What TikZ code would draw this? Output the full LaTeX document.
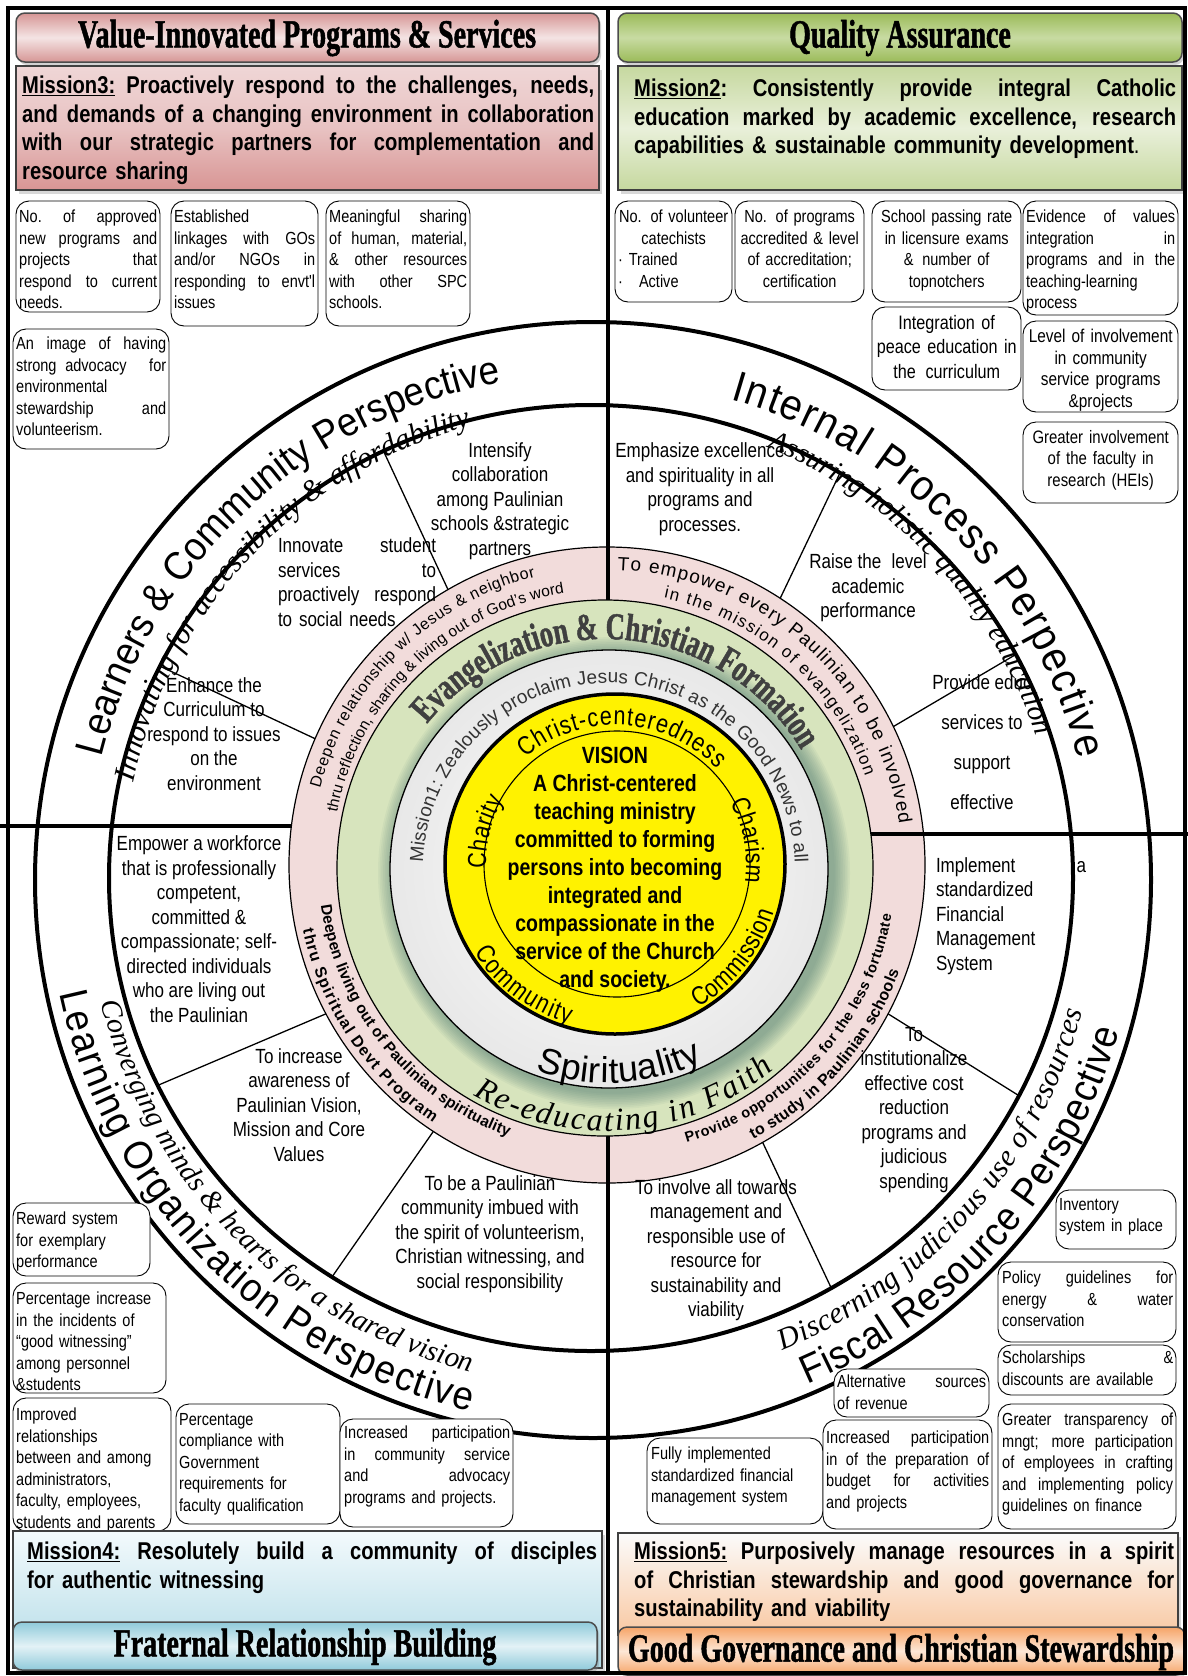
\documentclass[tikz,border=0pt]{standalone}
\usepackage{fontspec}
\setmainfont{Liberation Sans}
\newfontfamily\nar[FakeStretch=0.83]{Liberation Sans}
\newfontfamily\pers[FakeStretch=0.92]{Liberation Sans}
\newfontfamily\hdf[FakeStretch=0.7,FakeBold=1.2]{Liberation Serif}
\newfontfamily\sit{Liberation Serif}
\usetikzlibrary{calc,decorations.text,shadows}
\newcommand\fs[2]{\fontsize{#1}{#2}\selectfont}
\newcommand\jl[1]{\makebox[\linewidth][s]{\spaceskip=0.25em plus 4em minus 0.04em\xspaceskip=\spaceskip\relax #1}}
\definecolor{ringpink}{HTML}{F2DCDB}
\definecolor{ringgreen}{HTML}{D7E4BD}
\definecolor{pkdark}{HTML}{D69695}
\definecolor{pklight}{HTML}{F4E4E4}
\definecolor{pkmis}{HTML}{D89594}
\definecolor{pkmisl}{HTML}{EFD6D6}
\definecolor{grdark}{HTML}{9BBB59}
\definecolor{grlight}{HTML}{C8DBA2}
\definecolor{grmis}{HTML}{C6D89F}
\definecolor{grmisl}{HTML}{E9F0DA}
\definecolor{bldark}{HTML}{8FCADA}
\definecolor{bllight}{HTML}{E3F2F6}
\definecolor{blmis}{HTML}{B0DAE6}
\definecolor{blmisl}{HTML}{F3FAFC}
\definecolor{ordark}{HTML}{F6A467}
\definecolor{orlight}{HTML}{FDE7D6}
\definecolor{ormis}{HTML}{F9C8A2}
\definecolor{ormisl}{HTML}{FBFBFB}
\definecolor{glow}{HTML}{3F6F6A}
\tikzset{
  heavy/.style={line width=4pt},
  radial/.style={line width=1.3pt},
  kpi/.style={draw=black, line width=0.9pt, rounded corners=13pt, fill=white},
  kt/.style={anchor=north west, inner sep=0pt, align=left, font=\nar\fs{17.5}{21.5}},
  obj/.style={inner sep=0pt, align=center, font=\nar\fs{20.5}{24.5}},
  hdr/.style={draw=black!70, line width=1.5pt, rounded corners=9pt, drop shadow={shadow xshift=2pt, shadow yshift=-3pt, opacity=0.35}},
  msn/.style={draw=black!75, line width=2pt, drop shadow={shadow xshift=3pt, shadow yshift=-4pt, opacity=0.3}},
  mtext/.style={anchor=north west, inner sep=0pt, align=left, font=\nar\bfseries\fs{24.3}{28.5}},
  htext/.style={inner sep=0pt, font=\hdf\bfseries\fs{40}{44}},
  arctext/.style={decorate, decoration={text along path, text align={fit to path}, text={#1}}},
}
\begin{document}
\begin{tikzpicture}[x=1pt,y=1pt]
\useasboundingbox (0,0) rectangle (1188,-1676);
\fill[white] (0,0) rectangle (1188,-1676);
\coordinate (O) at (593,-880);
\coordinate (Q) at (591,-878);
\coordinate (P) at (607,-865);
\coordinate (G) at (605,-868);
\coordinate (W) at (609,-869);
\coordinate (Y) at (615,-864);
\coordinate (T) at (617,-864);
% perspective circles
\draw[heavy] (O) circle (558);
\draw[heavy] (Q) ellipse [x radius=482, y radius=473];
% radial sector lines
\draw[radial] ($(P)+(120:318)$) -- ($(Q)+({482*cos(115.5)},{473*sin(115.5)})$);
\draw[radial] ($(P)+(156.6:318)$) -- ($(Q)+({482*cos(153.4)},{473*sin(153.4)})$);
\draw[radial] ($(P)+(57:318)$) -- ($(Q)+({482*cos(58.9)},{473*sin(58.9)})$);
\draw[radial] ($(P)+(25.8:318)$) -- ($(Q)+({482*cos(28.2)},{473*sin(28.2)})$);
\draw[radial] ($(P)+(207.9:318)$) -- ($(Q)+({482*cos(206)},{473*sin(206)})$);
\draw[radial] ($(P)+(236.9:318)$) -- ($(Q)+({482*cos(237.5)},{473*sin(237.5)})$);
\draw[radial] ($(P)+(332.1:318)$) -- ($(Q)+({482*cos(332.6)},{473*sin(332.6)})$);
\draw[radial] ($(P)+(299.3:318)$) -- ($(Q)+({482*cos(299.9)},{473*sin(299.9)})$);
% pink ring
\draw[fill=ringpink, line width=1.2pt] (P) circle (318);
% dividers
\coordinate (vt1) at (608,-8);   \coordinate (vt2) at (608,-620);
\coordinate (vb1) at (608,-1110); \coordinate (vb2) at (608,-1672);
\coordinate (hl1) at (0,-826);   \coordinate (hl2) at (292,-826);
\coordinate (hr1) at (860,-834); \coordinate (hr2) at (1188,-834);
\draw[heavy] (vt1) -- (vt2);
\draw[heavy] (vb1) -- (vb2);
\draw[heavy] (hl1) -- (hl2);
\draw[heavy] (hr1) -- (hr2);
% green ring
\draw[fill=ringgreen, line width=1.2pt] (G) circle (268);
\begin{scope}
\clip (G) circle (268);
\foreach \k in {0,...,9} \fill[glow, opacity=0.06] ($(W)+(5,-4)$) circle ({236-1.7*\k});
\end{scope}
% white ring
\fill[inner color=white, outer color=black!9] (W) circle (219);
\draw[line width=1.3pt] (W) circle (219);
% yellow
\draw[fill=yellow, line width=3.5pt] (Y) circle (170);
\draw[line width=1.1pt] (T) circle (133);

% ---- curved texts: perspectives
\path[arctext={|\pers\fs{40}{48}|Learners {\&} Community Perspective}] ($(O)+(166:506)$) arc[start angle=166,end angle=101,radius=506];
\path[arctext={|\sit\itshape\fs{30}{36}|Innovating for accessibility {\&} affordability}] ($(O)+(168:470)$) arc[start angle=168,end angle=105,radius=470];
\path[arctext={|\pers\fs{43}{52}|Internal Process Perpective}] ($(O)+(74:500)$) arc[start angle=74,end angle=14,radius=500];
\path[arctext={|\sit\itshape\fs{29}{35}|Assuring holistic quality education}] ($(O)+(68:466)$) arc[start angle=68,end angle=18,radius=466];
\path[arctext={|\pers\fs{40}{48}|Learning Organization Perspective}] ($(O)+(192:545)$) arc[start angle=192,end angle=257,radius=545];
\path[arctext={|\sit\itshape\fs{29}{35}|Converging minds {\&} hearts for a shared vision}] ($(O)+(194:507)$) arc[start angle=194,end angle=256,radius=507];
\path[arctext={|\pers\fs{40}{46}|Fiscal Resource Perspective}] ($(O)+(293:548)$) arc[start angle=293,end angle=344,radius=548];
\path[arctext={|\sit\itshape\fs{30}{36}|Discerning judicious use of resources}] ($(O)+(292:507)$) arc[start angle=292,end angle=345,radius=507];
% pink ring texts
\path[arctext={|\fs{16}{19}|Deepen relationship w/ Jesus {\&} neighbor}] ($(P)+(165:297)$) arc[start angle=165,end angle=104,radius=297];
\path[arctext={|\fs{15.5}{18}|thru reflection, sharing {\&} living out of God's word}] ($(P)+(169:275)$) arc[start angle=169,end angle=99,radius=275];
\path[arctext={|\fs{19}{22}|To empower every Paulinian to be involved}] ($(P)+(88:295)$) arc[start angle=88,end angle=8,radius=295];
\path[arctext={|\fs{17}{20}|in the mission of evangelization}] ($(P)+(78:273)$) arc[start angle=78,end angle=19,radius=273];
\path[arctext={|\bfseries\fs{15.5}{18}|Deepen living out of Paulinian spirituality}] ($(P)+(188:289)$) arc[start angle=188,end angle=250,radius=289];
\path[arctext={|\bfseries\fs{16}{19}|thru Spiritual Devt Program}] ($(P)+(192:311)$) arc[start angle=192,end angle=236,radius=311];
\path[arctext={|\bfseries\fs{14.5}{17}|Provide opportunities for the less fortunate}] ($(P)+(286:289)$) arc[start angle=286,end angle=350,radius=289];
\path[arctext={|\bfseries\fs{16}{19}|to study in Paulinian schools}] ($(P)+(298:311)$) arc[start angle=298,end angle=340,radius=311];
% green ring texts
\path[arctext={|\hdf\bfseries\fs{38}{44}|Evangelization {\&} Christian Formation}, decoration={text color=black!75}] ($(G)+(141:229)$) arc[start angle=141,end angle=32,radius=229];
\path[arctext={|\sit\itshape\fs{32}{38}|Re-educating in Faith}] ($(G)+(240:263)$) arc[start angle=240,end angle=310,radius=263];
% white ring texts
\path[arctext={|\fs{19}{22}|Mission1: Zealously proclaim Jesus Christ as the Good News to all}, decoration={text color=black!80}] ($(W)+(178:186)$) arc[start angle=178,end angle=2,radius=186];
\path[arctext={|\fs{36}{42}|Spirituality}] ($(W)+(250:214)$) arc[start angle=250,end angle=296,radius=214];
% yellow texts
\path[arctext={|\nar\fs{26}{30}|Christ-centeredness}] ($(Y)+(130:139)$) arc[start angle=130,end angle=43,radius=139];
\path[arctext={|\nar\fs{26}{30}|Charity}] ($(Y)+(182:129)$) arc[start angle=182,end angle=150,radius=129];
\path[arctext={|\nar\fs{26}{30}|Charism}] ($(Y)+(28:131)$) arc[start angle=28,end angle=-8,radius=131];
\path[arctext={|\nar\fs{26}{30}|Community}] ($(Y)+(212:166)$) arc[start angle=212,end angle=254,radius=166];
\path[arctext={|\nar\fs{26}{30}|Commission}] ($(Y)+(300:166)$) arc[start angle=300,end angle=343,radius=166];

\node[font=\nar\bfseries\fs{23.5}{28}, align=center, inner sep=0pt] (vis) at (615,-870) {VISION\\A Christ-centered\\teaching ministry\\committed to forming\\persons into becoming\\integrated and\\compassionate in the\\service of the Church\\and society.};

% ---- objectives
\node[obj] (o1) at (500,-501) {Intensify\\collaboration\\among Paulinian\\schools \&strategic\\partners};
\node[obj, text width=158pt, align=left] (o2) at (357,-582) {\jl{Innovate student}\\\jl{services to}\\\jl{proactively respond}\\to social needs};
\node[obj] (o3) at (214,-734) {Enhance the\\Curriculum to\\respond to issues\\on the\\environment};
\node[obj] (o4) at (700,-489) {Emphasize excellence\\and spirituality in all\\programs and\\processes.};
\node[obj] (o5) at (868,-588) {Raise the\enspace level\\academic\\performance};
\node[obj, font=\nar\fs{20.5}{40}] (o6) at (982,-742) {Provide educ\\services to\\support\\effective};
\node[obj] (o7) at (199,-929) {Empower a workforce\\that is professionally\\competent,\\committed \&\\compassionate; self-\\directed individuals\\who are living out\\the Paulinian};
\node[obj] (o8) at (299,-1105) {To increase\\awareness of\\Paulinian Vision,\\Mission and Core\\Values};
\node[obj] (o9) at (490,-1234) {To be a Paulinian\\community imbued with\\the spirit of volunteerism,\\Christian witnessing, and\\social responsibility};
\node[obj, text width=150pt, align=left] (o10) at (1011,-916) {\jl{Implement a}\\standardized\\Financial\\Management\\System};
\node[obj] (o11) at (914,-1110) {To\\institutionalize\\effective cost\\reduction\\programs and\\judicious\\spending};
\node[obj] (o12) at (716,-1250) {To involve all towards\\management and\\responsible use of\\resource for\\sustainability and\\viability};

% ---- KPI boxes top-left
\draw[kpi] (16,-201) rectangle (160,-312);
\node[kt, text width=138pt] (k1) at (19,-210) {\jl{No. of approved}\\\jl{new programs and}\\\jl{projects that}\\\jl{respond to current}\\needs.};
\draw[kpi] (171,-201) rectangle (318,-326);
\node[kt, text width=141pt] (k2) at (174,-210) {Established\\\jl{linkages with GOs}\\\jl{and/or NGOs in}\\\jl{responding to envt'l}\\issues};
\draw[kpi] (326,-201) rectangle (470,-326);
\node[kt, text width=138pt] (k3) at (329,-210) {\jl{Meaningful sharing}\\\jl{of human, material,}\\\jl{\& other resources}\\\jl{with other SPC}\\schools.};
\draw[kpi] (13,-329) rectangle (169,-449);
\node[kt, text width=150pt] (k4) at (16,-337) {\jl{An image of having}\\\jl{strong\enspace advocacy for}\\environmental\\\jl{stewardship and}\\volunteerism.};
% top-right
\draw[kpi] (615,-201) rectangle (732,-302);
\node[kt, text width=111pt, align=center] (k5) at (618,-210) {No. of volunteer\\catechists\\\makebox[\linewidth][l]{·\ Trained}\\\makebox[\linewidth][l]{·\hspace{16pt}Active}};
\draw[kpi] (735,-201) rectangle (864,-302);
\node[kt, text width=125pt, align=center] (k6) at (737,-210) {No. of programs\\accredited \& level\\of accreditation;\\certification};
\draw[kpi] (872,-201) rectangle (1021,-302);
\node[kt, text width=143pt, align=center] (k7) at (875,-210) {School passing rate\\in licensure exams\\\&\enspace number of\\topnotchers};
\draw[kpi] (1023,-201) rectangle (1178,-315);
\node[kt, text width=149pt] (k8) at (1026,-210) {\jl{Evidence of values}\\\jl{integration in}\\\jl{programs and in the}\\teaching-learning\\process};
\draw[kpi] (872,-307) rectangle (1021,-390);
\node[kt, text width=145pt, align=center, font=\nar\fs{19.5}{24.5}] (k9) at (874,-315) {Integration of\\peace education in\\the\enspace curriculum};
\draw[kpi] (1023,-321) rectangle (1178,-412);
\node[kt, text width=151pt, align=center, font=\nar\fs{18.5}{21.5}] (k10) at (1025,-329) {Level of involvement\\in community\\service programs\\\&projects};
\draw[kpi] (1023,-422) rectangle (1178,-503);
\node[kt, text width=151pt, align=center, font=\nar\fs{18}{21.5}] (k11) at (1025,-430) {Greater involvement\\of the faculty in\\research (HEIs)};
% bottom-left
\draw[kpi] (13,-1203) rectangle (150,-1276);
\node[kt, text width=131pt] (k12) at (16,-1212) {Reward system\\for exemplary\\performance};
\fill[white, rounded corners=13pt] (13,-1283) rectangle (166,-1393);
\begin{scope}
\clip[rounded corners=13pt] (13,-1283) rectangle (166,-1393);
\node[kt, text width=147pt] (k13) at (16,-1292) {Percentage increase\\in the incidents of\\“good witnessing”\\among personnel\\\&students};
\end{scope}
\draw[line width=0.9pt, rounded corners=13pt] (13,-1283) rectangle (166,-1393);
\draw[kpi] (13,-1398) rectangle (171,-1531);
\node[kt, text width=152pt] (k14) at (16,-1408) {Improved\\relationships\\between and among\\administrators,\\faculty, employees,\\students and parents};
\draw[kpi] (176,-1404) rectangle (340,-1524);
\node[kt, text width=158pt] (k15) at (179,-1413) {Percentage\\compliance with\\Government\\requirements for\\faculty qualification};
\draw[kpi] (340,-1419) rectangle (513,-1527);
\node[kt, text width=166pt] (k16) at (344,-1426) {\jl{Increased participation}\\\jl{in community service}\\\jl{and advocacy}\\programs and projects.};
% bottom-right
\draw[kpi] (1056,-1190) rectangle (1176,-1249);
\node[kt, text width=114pt] (k17) at (1059,-1198) {Inventory\\system in place};
\draw[kpi] (998,-1262) rectangle (1176,-1342);
\node[kt, text width=171pt] (k18) at (1002,-1271) {\jl{Policy guidelines for}\\\jl{energy \& water}\\conservation};
\draw[kpi] (998,-1345) rectangle (1176,-1395);
\node[kt, text width=171pt] (k19) at (1002,-1351) {\jl{Scholarships \&}\\discounts are available};
\draw[kpi] (998,-1404) rectangle (1176,-1529);
\node[kt, text width=171pt] (k20) at (1002,-1413) {\jl{Greater transparency of}\\\jl{mngt; more participation}\\\jl{of employees in crafting}\\\jl{and implementing policy}\\guidelines on finance};
\draw[kpi] (834,-1369) rectangle (989,-1417);
\node[kt, text width=149pt] (k21) at (837,-1375) {\jl{Alternative sources}\\of revenue};
\draw[kpi] (647,-1438) rectangle (823,-1524);
\node[kt, text width=170pt] (k23) at (651,-1447) {Fully implemented\\standardized financial\\management system};
\draw[kpi] (823,-1420) rectangle (992,-1529);
\node[kt, text width=163pt] (k22) at (826,-1431) {\jl{Increased participation}\\\jl{in of the preparation of}\\\jl{budget for activities}\\and projects};

% ---- mission and header boxes
\path[msn, top color=pkmisl, bottom color=pkmis, middle color=pkmisl!70!pkmis] (16,-66) rectangle (599,-190);
\node[mtext, text width=572pt] (m3) at (22,-76) {\jl{\underline{Mission3:} Proactively respond to the challenges, needs,}\\\jl{and demands of a changing environment in collaboration}\\\jl{with our strategic partners for complementation and}\\resource sharing};
\path[hdr, top color=pkdark, bottom color=pkdark, middle color=pklight] (16,-13) rectangle (599,-62);
\node[htext] (h1) at (307,-38) {Value-Innovated Programs \& Services};

\path[msn, top color=grmis, bottom color=grmis, middle color=grmisl] (618,-66) rectangle (1182,-190);
\node[mtext, text width=542pt] (m2) at (634,-79) {\jl{\underline{Mission2}: Consistently provide integral Catholic}\\\jl{education marked by academic excellence, research}\\capabilities \& sustainable community development{\mdseries .}};
\path[hdr, top color=grdark, bottom color=grdark, middle color=grlight] (618,-13) rectangle (1182,-62);
\node[htext] (h2) at (900,-38) {Quality Assurance};

\path[msn, top color=blmisl, bottom color=blmis] (13,-1531) rectangle (602,-1668);
\node[mtext, text width=570pt] (m4) at (27,-1542) {\jl{\underline{Mission4:} Resolutely build a community of disciples}\\for authentic witnessing};
\path[hdr, top color=bldark, bottom color=bldark, middle color=bllight] (13,-1622) rectangle (597,-1670);
\node[htext] (h4) at (305,-1647) {Fraternal Relationship Building};

\path[msn, top color=ormisl, bottom color=ormis] (618,-1533) rectangle (1178,-1635);
\node[mtext, text width=540pt] (m5) at (634,-1542) {\jl{\underline{Mission5:} Purposively manage resources in a spirit}\\\jl{of Christian stewardship and good governance for}\\sustainability and viability};
\path[hdr, top color=ordark, bottom color=ordark, middle color=orlight] (618,-1627) rectangle (1185,-1675);
\node[htext] (h5) at (901,-1652) {Good Governance and Christian Stewardship};

% frame
\draw[line width=4pt] (8,-8) rectangle (1185,-1673);
\end{tikzpicture}
\end{document}
